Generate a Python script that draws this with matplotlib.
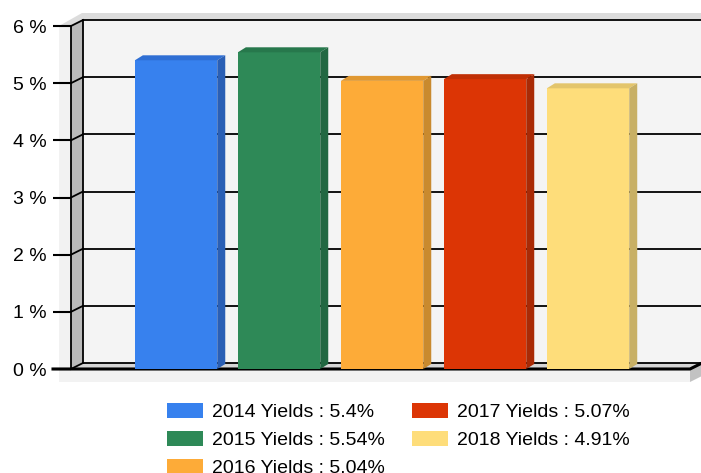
import matplotlib.pyplot as plt
from matplotlib.patches import Polygon, Patch
import numpy as np

plt.rcParams['font.family'] = ['Liberation Sans', 'DejaVu Sans']

# data
years = ['2014', '2015', '2016', '2017', '2018']
yields = [5.4, 5.54, 5.04, 5.07, 4.91]
y_ticks = [0, 1, 2, 3, 4, 5, 6]
y_labels = ['0 %', '1 %', '2 %', '3 %', '4 %', '5 %', '6 %']

front_cols = ['#3781ee', '#2e8957', '#fdab38', '#dc3505', '#fedd7a']
top_cols = ['#2f6fd4', '#27784c', '#e09832', '#c02f05', '#e3c56c']
side_cols = ['#2a5fb5', '#226842', '#c98a2e', '#a92a06', '#c8b065']

W, H = 701, 473
fig = plt.figure(figsize=(W / 100, H / 100), dpi=100)
# front plane of the 3d box (pixels: left 71, right 690, 0% at 369, 6% at 26)
ax = fig.add_axes([71 / W, (H - 369) / H, (690 - 71) / W, (369 - 26) / H])
ax.set_xlim(-1.02, 4.99)
ax.set_ylim(0, 6)
ax.patch.set_visible(False)
for s in ax.spines.values():
    s.set_visible(False)

# pixel -> data units
x0, x1 = ax.get_xlim()
y0, y1 = ax.get_ylim()
pos = ax.get_position()
sx = (x1 - x0) / (pos.width * W)
sy = (y1 - y0) / (pos.height * H)


def P(x, y, dx=0, dy=0):
    return (x + dx * sx, y + dy * sy)


DX, DY = 12, 6     # wall depth
BX, BY = 8, 5      # bar depth


def poly(pts, fc, z, ec='none', lw=0):
    ax.add_patch(Polygon(pts, closed=True, fc=fc, ec=ec, lw=lw, zorder=z, clip_on=False))


# box decoration
poly([P(x0, y1, DX, DY), P(x1, y1, DX + 20, DY), P(x1, y0, DX + 20, DY), P(x0, y0, DX, DY)], '#f4f4f4', 0)
poly([P(x0, y1, -12, 0), P(x0, y0, -12, -13), P(x1, y0, 0, -13), P(x1, y0), P(x0, y0), P(x0, y1)], '#f2f2f2', 0)
poly([P(x0, y1, -12, 0), P(x0, y1, 11, 13), P(x1, y1, 30, 13), P(x1, y1, 30, DY), P(x0, y1, DX, DY), P(x0, y1)],
     '#dcdcdc', 0)
poly([P(x1, y0), P(x1, y0, DX, DY), P(x1, y0, DX, DY - 13), P(x1, y0, 0, -13)], '#c2c2c2', 0)
poly([P(x0, y0), P(x0, y1), P(x0, y1, DX, DY), P(x0, y0, DX, DY)], '#bababa', 1)
poly([P(x0, y0), P(x1, y0), P(x1, y0, DX, DY), P(x0, y0, DX, DY)], '#d6d6d6', 1)

# grid lines on back wall + connectors
for t in y_ticks:
    a, b = P(x0, t, DX, DY), P(x1, t, DX + 20, DY)
    ax.plot([a[0], b[0]], [a[1], b[1]], color='black', lw=1.3, zorder=2, clip_on=False)
    c = P(x0, t)
    ax.plot([c[0], a[0]], [c[1], a[1]], color='black', lw=1.3, zorder=2, clip_on=False)

# wall edges
for dx, dy in [(0, 0), (DX, DY)]:
    a, b = P(x0, y0, dx, dy), P(x0, y1, dx, dy)
    ax.plot([a[0], b[0]], [a[1], b[1]], color='black', lw=1.3, zorder=2, clip_on=False)
a, b, c = P(x0, y0, -18, 0), P(x1, y0), P(x1, y0, DX, DY)
ax.plot([a[0], b[0], c[0]], [a[1], b[1], c[1]], color='black', lw=2.2, zorder=6, clip_on=False)

# bars
xs = np.arange(len(yields))
w = 0.8
ax.bar(xs, yields, width=w, color=front_cols, zorder=7)
for x, v, tc, sc in zip(xs, yields, top_cols, side_cols):
    l, r = x - w / 2, x + w / 2
    poly([P(l, v), P(r, v), P(r, v, BX, BY), P(l, v, BX, BY)], tc, 7)
    poly([P(r, 0), P(r, v), P(r, v, BX, BY), P(r, 0, BX, BY)], sc, 7)

ax.set_xticks([])
ax.set_yticks(y_ticks, y_labels)
ax.tick_params(axis='y', length=13, width=1.5, pad=4.5, labelsize=14, colors='black')

handles = [Patch(fc=c, ec='none') for c in front_cols]
labels = [f'{y} Yields : {v:g}%' for y, v in zip(years, yields)]
fig.legend(handles, labels, ncol=2, frameon=False, loc='upper left',
           bbox_to_anchor=(167 / W, 1 - 403 / H), borderpad=0, borderaxespad=0,
           fontsize=14, handlelength=1.85, handleheight=0.82, handletextpad=0.45,
           labelspacing=0.5, columnspacing=1.4)

fig.savefig('out.png', dpi=100)
